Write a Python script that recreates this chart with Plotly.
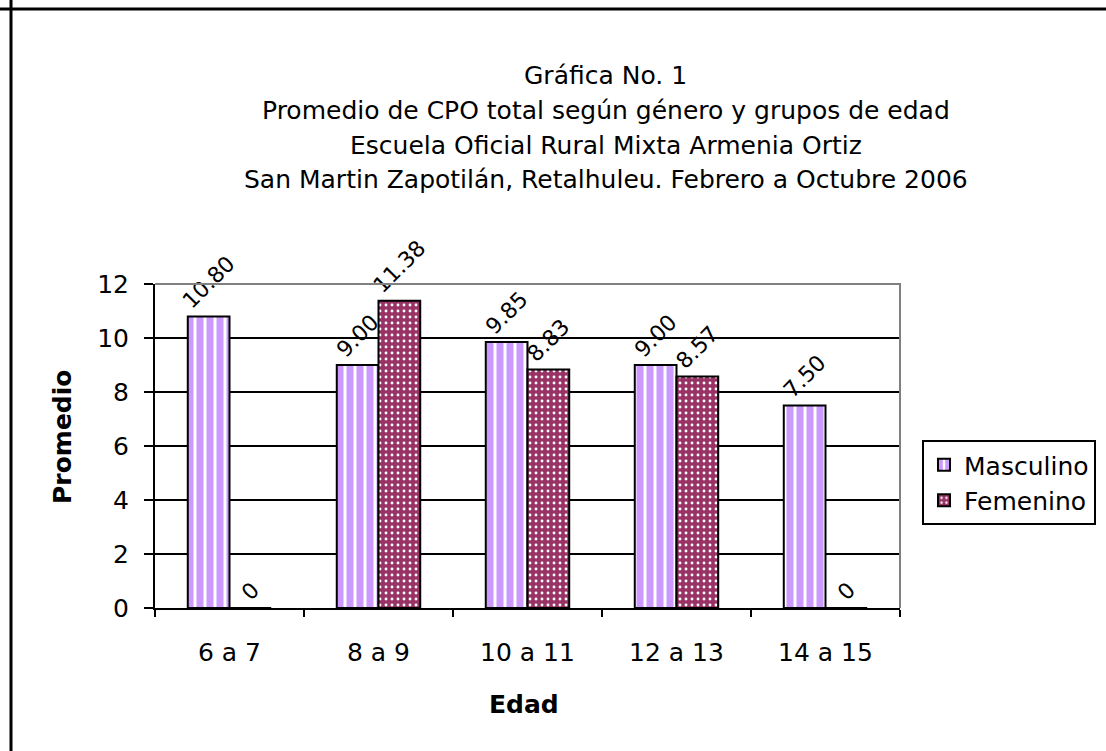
import plotly.graph_objects as go

# data
edades = ['6 a 7', '8 a 9', '10 a 11', '12 a 13', '14 a 15']
masculino = [10.80, 9.00, 9.85, 9.00, 7.50]
femenino = [0, 11.38, 8.83, 8.57, 0]

titulo = ['Gráfica No. 1',
          'Promedio de CPO total según género y grupos de edad',
          'Escuela Oficial Rural Mixta Armenia Ortiz',
          'San Martin Zapotilán, Retalhuleu. Febrero a Octubre 2006']

FONT = 'DejaVu Sans'


def etiqueta(v):
    return '0' if v == 0 else '{:.2f}'.format(v)


fig = go.Figure()

fig.add_trace(go.Bar(
    x=edades, y=masculino, name='Masculino', legendgroup='m',
    text=[etiqueta(v) for v in masculino],
    marker=dict(color='#CC99FF', line=dict(color='black', width=2),
                pattern=dict(shape='|', fgcolor='#CC99FF', bgcolor='white',
                             fgopacity=1, size=10, solidity=0.7)),
))
fig.add_trace(go.Bar(
    x=edades, y=femenino, name='Femenino', legendgroup='f',
    text=[etiqueta(v) for v in femenino],
    marker=dict(color='#993366', line=dict(color='black', width=2),
                pattern=dict(shape='.', fgcolor='white', bgcolor='#993366',
                             fgopacity=1, size=6, solidity=0.18)),
))

fig.update_traces(textposition='outside', textangle=-45, constraintext='none',
                  cliponaxis=False,
                  textfont=dict(family=FONT, size=22, color='black'))

# title lines
for i, linea in enumerate(titulo):
    fig.add_annotation(text=linea, xref='paper', yref='paper',
                       x=0.605, y=(608 - (75 + 35 * i)) / 324,
                       xanchor='center', yanchor='middle', showarrow=False,
                       font=dict(family=FONT, size=25, color='black'))

# axis titles
fig.add_annotation(text='<b>Promedio</b>', xref='paper', yref='paper',
                   x=(62 - 155) / 745, y=(608 - 437) / 324, textangle=-90,
                   xanchor='center', yanchor='middle', showarrow=False,
                   font=dict(family=FONT, size=25, color='black'))
fig.add_annotation(text='<b>Edad</b>', xref='paper', yref='paper',
                   x=(524 - 155) / 745, y=(608 - 704) / 324,
                   xanchor='center', yanchor='middle', showarrow=False,
                   font=dict(family=FONT, size=25, color='black'))

# grey plot-area border (top and right) and outer chart frame (top, left)
fig.add_shape(type='path', xref='paper', yref='paper',
              path='M 0,1 L 1,1 L 1,0', line=dict(color='#808080', width=2),
              layer='above')
fig.add_shape(type='line', xref='paper', yref='paper',
              x0=(11 - 155) / 745, x1=(11 - 155) / 745, y0=-1, y1=2.5,
              line=dict(color='black', width=3))
fig.add_shape(type='line', xref='paper', yref='paper',
              x0=-0.5, x1=1.5, y0=(608 - 9) / 324, y1=(608 - 9) / 324,
              line=dict(color='black', width=3))

fig.update_xaxes(
    showline=True, linecolor='black', linewidth=2,
    ticks='outside', tickson='boundaries', ticklen=7, tickcolor='black', tickwidth=2,
    ticklabelstandoff=21,
    tickfont=dict(family=FONT, size=25, color='black'),
    showgrid=False, range=[-0.5, 4.5],
)
fig.update_yaxes(
    range=[0, 12], dtick=2, showline=True, linecolor='black', linewidth=2,
    ticks='outside', ticklen=9, tickcolor='black', tickwidth=2,
    ticklabelstandoff=10,
    tickfont=dict(family=FONT, size=25, color='black'),
    showgrid=True, gridcolor='black', gridwidth=1.6, zeroline=False,
)

fig.update_layout(
    width=1106, height=751,
    margin=dict(l=155, r=206, t=284, b=143, autoexpand=False),
    paper_bgcolor='white', plot_bgcolor='white',
    barmode='group', bargap=0.44, bargroupgap=0,
    font=dict(family=FONT, color='black'),
    legend=dict(x=(922 - 155) / 745, y=(608 - 440) / 324,
                xanchor='left', yanchor='top',
                bordercolor='black', borderwidth=2, bgcolor='white',
                font=dict(family=FONT, size=25, color='black'),
                tracegroupgap=18, traceorder='normal'),
)

# drop the default page margin so the figure fills the window exactly
fig.write_html('out.html',
               config={'displayModeBar': False},
               post_script="document.body.style.margin='0px';"
                           "document.body.style.overflow='hidden';")
